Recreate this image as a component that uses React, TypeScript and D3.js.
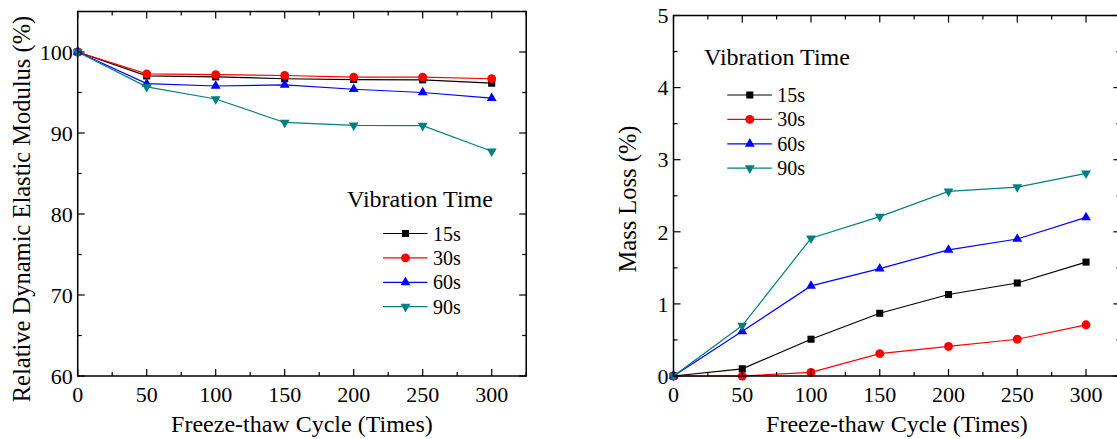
import * as d3 from "d3";

// freeze-thaw cycles (x)
const cycles = [0, 50, 100, 150, 200, 250, 300];
const seriesNames = ["15s", "30s", "60s", "90s"];
const colors = ["#000000", "#ff0000", "#0000ff", "#008080"];
const shapes = ["square", "circle", "up", "down"];

// relative dynamic elastic modulus (%)
const rdem15 = [100, 97.05, 96.93, 96.7, 96.6, 96.56, 96.15];
const rdem30 = [100, 97.3, 97.2, 97.1, 96.9, 96.9, 96.7];
const rdem60 = [100, 96.1, 95.8, 95.95, 95.4, 95.0, 94.3];
const rdem90 = [100, 95.7, 94.2, 91.3, 90.95, 90.9, 87.75];

// mass loss (%)
const mass15 = [0, 0.1, 0.51, 0.87, 1.13, 1.29, 1.58];
const mass30 = [0, 0.0, 0.05, 0.31, 0.41, 0.51, 0.71];
const mass60 = [0, 0.62, 1.25, 1.49, 1.75, 1.9, 2.2];
const mass90 = [0, 0.7, 1.91, 2.21, 2.56, 2.62, 2.81];

const FONT = "'Liberation Serif', 'Times New Roman', serif";

function symbolPath(shape: string) {
  if (shape === "square") return d3.symbol(d3.symbolSquare, 50)()!;
  if (shape === "circle") return d3.symbol(d3.symbolCircle, 62)()!;
  return d3.symbol(d3.symbolTriangle, 42)()!;
}

function Marker({ x, y, i }: { x: number; y: number; i: number }) {
  const rot = shapes[i] === "down" ? " rotate(180)" : "";
  return (
    <path
      d={symbolPath(shapes[i])}
      transform={`translate(${x},${y})${rot}`}
      fill={colors[i]}
    />
  );
}

interface PanelProps {
  xRange: [number, number];
  yRange: [number, number];
  yDomain: [number, number];
  yMajor: number;
  yMinor: number;
  yTicks: number[];
  series: number[][];
  yTitle: string;
  yTitleX: number;
  yTitleY: number;
  legend: { titleX: number; titleY: number; lineX: number; rowY: number };
}

function Panel(p: PanelProps) {
  const x = d3.scaleLinear().domain([0, 325]).range(p.xRange);
  const y = d3.scaleLinear().domain(p.yDomain).range(p.yRange);
  const [x0, x1] = p.xRange;
  const [yb, yt] = p.yRange;
  const xMajor = d3.range(0, 301, 50);
  const xMinor = d3.range(25, 326, 50);
  const yMinor = d3.range(p.yDomain[0] + p.yMinor, p.yDomain[1] + 1e-9, p.yMajor);
  const line = d3
    .line<number>()
    .x((_, i) => x(cycles[i]))
    .y((d) => y(d));
  const M = 7;
  const m = 4;

  return (
    <g>
      {/* data lines */}
      {p.series.map((s, i) => (
        <path key={i} d={line(s)!} fill="none" stroke={colors[i]} strokeWidth={1.2} />
      ))}
      {p.series.map((s, i) =>
        s.map((v, j) => <Marker key={`${i}-${j}`} x={x(cycles[j])} y={y(v)} i={i} />)
      )}

      {/* frame */}
      <rect x={x0} y={yt} width={x1 - x0} height={yb - yt} fill="none" stroke="#000" strokeWidth={1.5} />

      {/* x ticks (bottom + top) */}
      {xMajor.map((t) => (
        <g key={`xm${t}`}>
          <line x1={x(t)} x2={x(t)} y1={yb} y2={yb - M} stroke="#000" strokeWidth={1.2} />
          <line x1={x(t)} x2={x(t)} y1={yt} y2={yt + M} stroke="#000" strokeWidth={1.2} />
          <text x={x(t)} y={402} textAnchor="middle" fontSize={22} fontFamily={FONT}>
            {t}
          </text>
        </g>
      ))}
      {xMinor.map((t) => (
        <g key={`xn${t}`}>
          <line x1={x(t)} x2={x(t)} y1={yb} y2={yb - m} stroke="#000" strokeWidth={1.2} />
          <line x1={x(t)} x2={x(t)} y1={yt} y2={yt + m} stroke="#000" strokeWidth={1.2} />
        </g>
      ))}

      {/* y ticks (left + right) */}
      {p.yTicks.map((t) => (
        <g key={`ym${t}`}>
          <line x1={x0} x2={x0 + M} y1={y(t)} y2={y(t)} stroke="#000" strokeWidth={1.2} />
          <line x1={x1} x2={x1 - M} y1={y(t)} y2={y(t)} stroke="#000" strokeWidth={1.2} />
          <text x={x0 - 5} y={y(t)} dy="0.35em" textAnchor="end" fontSize={22} fontFamily={FONT}>
            {t}
          </text>
        </g>
      ))}
      {yMinor.map((t) => (
        <g key={`yn${t}`}>
          <line x1={x0} x2={x0 + m} y1={y(t)} y2={y(t)} stroke="#000" strokeWidth={1.2} />
          <line x1={x1} x2={x1 - m} y1={y(t)} y2={y(t)} stroke="#000" strokeWidth={1.2} />
        </g>
      ))}

      {/* axis titles */}
      <text x={(x0 + x1) / 2} y={432} textAnchor="middle" fontSize={24} fontFamily={FONT}>
        Freeze-thaw Cycle (Times)
      </text>
      <text
        transform={`translate(${p.yTitleX},${p.yTitleY}) rotate(-90)`}
        textAnchor="middle"
        fontSize={24.5}
        fontFamily={FONT}
      >
        {p.yTitle}
      </text>

      {/* legend */}
      <text x={p.legend.titleX} y={p.legend.titleY} fontSize={24} fontFamily={FONT}>
        Vibration Time
      </text>
      {seriesNames.map((name, i) => {
        const ry = p.legend.rowY + i * 24.4;
        const lx = p.legend.lineX;
        return (
          <g key={name}>
            <line x1={lx} x2={lx + 44.5} y1={ry} y2={ry} stroke={colors[i]} strokeWidth={1.2} />
            <Marker x={lx + 22.5} y={ry} i={i} />
            <text x={lx + 50} y={ry} dy="0.35em" fontSize={20} fontFamily={FONT}>
              {name}
            </text>
          </g>
        );
      })}
    </g>
  );
}

export default function App() {
  return (
    <svg
      width={1117}
      height={439}
      style={{ position: "absolute", left: 0, top: 0, background: "#fff" }}
    >
      <Panel
        xRange={[77.7, 526.2]}
        yRange={[376, 11.5]}
        yDomain={[60, 105]}
        yMajor={10}
        yMinor={5}
        yTicks={[60, 70, 80, 90, 100]}
        series={[rdem15, rdem30, rdem60, rdem90]}
        yTitle="Relative Dynamic Elastic Modulus (%)"
        yTitleX={30}
        yTitleY={209}
        legend={{ titleX: 347, titleY: 207, lineX: 383, rowY: 233.5 }}
      />
      <Panel
        xRange={[673.5, 1120.4]}
        yRange={[376, 15.5]}
        yDomain={[0, 5]}
        yMajor={1}
        yMinor={0.5}
        yTicks={[0, 1, 2, 3, 4, 5]}
        series={[mass15, mass30, mass60, mass90]}
        yTitle="Mass Loss (%)"
        yTitleX={636}
        yTitleY={199}
        legend={{ titleX: 704, titleY: 65, lineX: 727.3, rowY: 95 }}
      />
    </svg>
  );
}
